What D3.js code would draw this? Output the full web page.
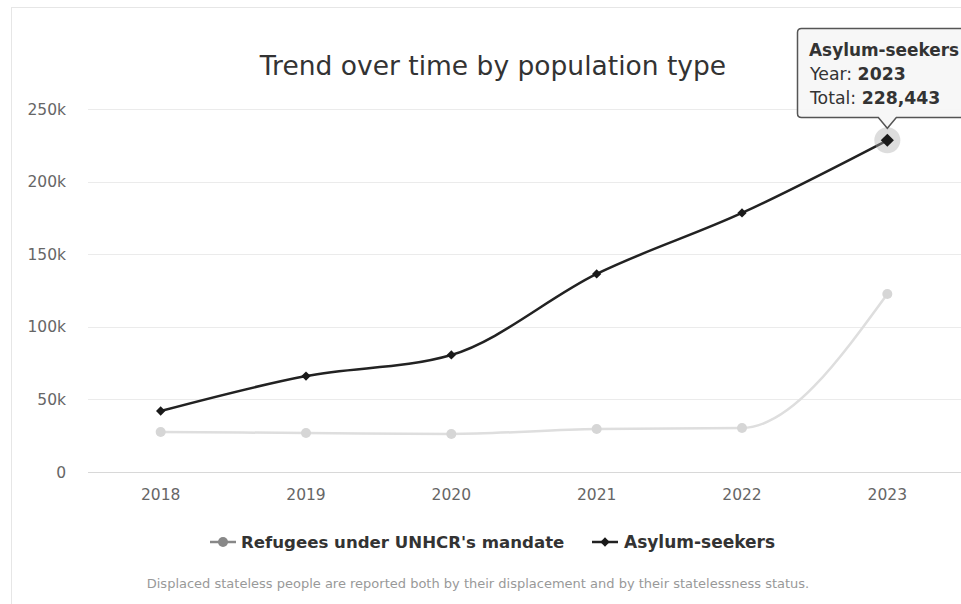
<!DOCTYPE html>
<html>
<head>
<meta charset="utf-8">
<script src="https://cdn.jsdelivr.net/npm/d3@7"></script>
<style>
  body { margin: 0; background: #fff; }
  text { font-family: "DejaVu Sans", Verdana, sans-serif; }
</style>
</head>
<body>
<div id="container"></div>
<script>
let width = 961;
let height = 604;

// data
let years = ["2018", "2019", "2020", "2021", "2022", "2023"];
let refugees = [27500, 26900, 26200, 29600, 30300, 122600];
let asylum = [42000, 66100, 80600, 136400, 178400, 228443];
let yTicks = [0, 50000, 100000, 150000, 200000, 250000];
let seriesNames = ["Refugees under UNHCR's mandate", "Asylum-seekers"];

let margin = { top: 109, right: 1, bottom: 132, left: 88 };

let svg = d3.select("#container")
  .append("svg")
  .attr("width", width)
  .attr("height", height);

// faint card border
svg.append("rect")
  .attr("x", 11.5).attr("y", 7.5)
  .attr("width", width + 10).attr("height", height + 10)
  .attr("fill", "none")
  .attr("stroke", "#e6e6e6");

let x = d3.scaleBand()
  .domain(years)
  .range([margin.left, width - margin.right]);

let y = d3.scaleLinear()
  .domain([0, 250000])
  .range([height - margin.bottom, margin.top]);

let cx = function (d, i) { return x(years[i]) + x.bandwidth() / 2 };

// grid
svg.append("g").selectAll("line").data(yTicks)
  .enter().append("line")
  .attr("x1", margin.left).attr("x2", width)
  .attr("y1", function (d) { return Math.round(y(d)) + 0.5 })
  .attr("y2", function (d) { return Math.round(y(d)) + 0.5 })
  .attr("stroke", function (d) { return d === 0 ? "#d8d8d8" : "#ebebeb" })
  .attr("stroke-width", 1);

// y labels
svg.append("g").selectAll("text").data(yTicks)
  .enter().append("text")
  .attr("x", 66)
  .attr("y", function (d) { return y(d) + 5.5 })
  .attr("text-anchor", "end")
  .style("font-size", "15.5px")
  .attr("fill", "#666")
  .text(function (d) { return d === 0 ? "0" : (d / 1000) + "k" });

// x labels
svg.append("g").selectAll("text").data(years)
  .enter().append("text")
  .attr("x", function (d) { return x(d) + x.bandwidth() / 2 })
  .attr("y", 500)
  .attr("text-anchor", "middle")
  .style("font-size", "15.5px")
  .attr("fill", "#666")
  .text(function (d) { return d });

// title
svg.append("text")
  .attr("x", 493).attr("y", 75)
  .attr("text-anchor", "middle")
  .style("font-size", "26.5px")
  .attr("fill", "#333")
  .text("Trend over time by population type");

let line = d3.line()
  .x(cx)
  .y(function (d) { return y(d) })
  .curve(d3.curveMonotoneX);

// refugees series
svg.append("path")
  .datum(refugees)
  .attr("d", line)
  .attr("fill", "none")
  .attr("stroke", "#dedede")
  .attr("stroke-width", 2.5);

svg.append("g").selectAll("circle").data(refugees)
  .enter().append("circle")
  .attr("cx", cx)
  .attr("cy", function (d) { return y(d) })
  .attr("r", 5)
  .attr("fill", "#d6d6d6");

// asylum series
svg.append("path")
  .datum(asylum)
  .attr("d", line)
  .attr("fill", "none")
  .attr("stroke", "#222")
  .attr("stroke-width", 2.5);

// hover halo on last point
svg.append("circle")
  .attr("cx", cx(asylum[5], 5))
  .attr("cy", y(asylum[5]))
  .attr("r", 13)
  .attr("fill", "#aaa")
  .attr("fill-opacity", 0.4);

svg.append("g").selectAll("path").data(asylum)
  .enter().append("path")
  .attr("transform", function (d, i) { return "translate(" + cx(d, i) + "," + y(d) + ")" })
  .attr("d", function (d, i) { return d3.symbol().type(d3.symbolDiamond2).size(i === 5 ? 110 : 55)() })
  .attr("fill", "#1a1a1a");

// legend
let legend = svg.append("g");
legend.append("line").attr("x1", 210).attr("x2", 236).attr("y1", 542).attr("y2", 542)
  .attr("stroke", "#888").attr("stroke-width", 2.5);
legend.append("circle").attr("cx", 223).attr("cy", 542).attr("r", 5).attr("fill", "#888");
legend.append("text").attr("x", 241).attr("y", 548)
  .style("font-size", "16.6px").style("font-weight", "bold").attr("fill", "#333")
  .text(seriesNames[0]);
legend.append("line").attr("x1", 592).attr("x2", 618).attr("y1", 542).attr("y2", 542)
  .attr("stroke", "#222").attr("stroke-width", 2.5);
legend.append("path").attr("transform", "translate(605,542)")
  .attr("d", d3.symbol().type(d3.symbolDiamond2).size(55)())
  .attr("fill", "#1a1a1a");
legend.append("text").attr("x", 624).attr("y", 548)
  .style("font-size", "17px").style("font-weight", "bold").attr("fill", "#333")
  .text(seriesNames[1]);

// footnote
svg.append("text")
  .attr("x", 478).attr("y", 588)
  .attr("text-anchor", "middle")
  .style("font-size", "13px")
  .attr("fill", "#999")
  .text("Displaced stateless people are reported both by their displacement and by their statelessness status.");

// tooltip
let tx = cx(asylum[5], 5), ty = y(asylum[5]);
let tip = svg.append("g");
tip.append("path")
  .attr("d", "M801.5,28.5 L970,28.5 L970,117.5 L" + (tx + 9) + ",117.5 L" + tx + "," + (ty - 12) +
    " L" + (tx - 9) + ",117.5 L801.5,117.5 Q797.5,117.5 797.5,113.5 L797.5,32.5 Q797.5,28.5 801.5,28.5 Z")
  .attr("fill", "#f7f7f7")
  .attr("fill-opacity", 0.95)
  .attr("stroke", "#555")
  .attr("stroke-width", 1.5);
tip.append("text").attr("x", 809).attr("y", 56)
  .style("font-size", "16.9px").style("font-weight", "bold").attr("fill", "#333")
  .text(seriesNames[1]);
let t2 = tip.append("text").attr("x", 810).attr("y", 80).style("font-size", "17.3px").attr("fill", "#333");
t2.append("tspan").text("Year: ");
t2.append("tspan").style("font-weight", "bold").text(years[5]);
let t3 = tip.append("text").attr("x", 810).attr("y", 104).style("font-size", "17.3px").attr("fill", "#333");
t3.append("tspan").text("Total: ");
t3.append("tspan").style("font-weight", "bold").text(d3.format(",")(asylum[5]));
</script>
</body>
</html>
